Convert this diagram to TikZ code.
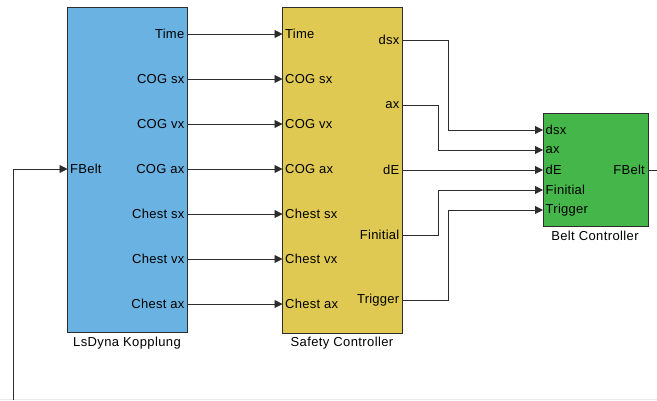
\documentclass[tikz,border=0pt]{standalone}
\usepackage{fontspec}
\setmainfont{Liberation Sans}
\usetikzlibrary{arrows.meta}
\definecolor{dynablue}{RGB}{106,178,226}
\definecolor{safeyellow}{RGB}{223,201,83}
\definecolor{beltgreen}{RGB}{69,182,73}
\definecolor{wire}{RGB}{45,45,45}
\tikzset{
  block/.style={draw=wire, line width=0.9pt, inner sep=0pt},
  inport/.style={anchor=west, inner sep=2.5pt, font=\fontsize{13}{14}\selectfont\addfontfeature{LetterSpace=2}},
  outport/.style={anchor=east, inner sep=3pt, font=\fontsize{13}{14}\selectfont\addfontfeature{LetterSpace=2}},
  caption/.style={font=\fontsize{13}{14}\selectfont\addfontfeature{LetterSpace=3}},
  sig/.style={draw=wire, line width=0.9pt, -{Triangle[length=8pt,width=8pt]}},
  sigline/.style={draw=wire, line width=0.9pt}
}
\begin{document}
\begin{tikzpicture}[x=1pt, y=-1pt]
    \useasboundingbox (0,0) rectangle (657,400);
    \draw[black!8, line width=1pt] (0,399.5) -- (657,399.5);
    % blocks
    \node[block, fill=dynablue, minimum width=120pt, minimum height=325pt] (L) at (127.5,169.5) {};
    \node[block, fill=safeyellow, minimum width=120pt, minimum height=326pt] (S) at (342.5,170) {};
    \node[block, fill=beltgreen, minimum width=105pt, minimum height=113pt] (B) at (595.5,169.5) {};
    \node[caption] (Lcap) at (127,343) {LsDyna Kopplung};
    \node[caption] (Scap) at (342,343) {Safety Controller};
    \node[caption] (Bcap) at (595,236) {Belt Controller};
    % LsDyna ports
    \node[outport] (L1) at (187.5,34) {Time};
    \node[outport] (L2) at (187.5,79) {COG sx};
    \node[outport] (L3) at (187.5,124) {COG vx};
    \node[outport] (L4) at (187.5,169) {COG ax};
    \node[outport] (L5) at (187.5,214) {Chest sx};
    \node[outport] (L6) at (187.5,259) {Chest vx};
    \node[outport] (L7) at (187.5,304) {Chest ax};
    \node[inport] (LF) at (67.5,169) {FBelt};
    % Safety ports
    \node[inport] (S1) at (282.5,34) {Time};
    \node[inport] (S2) at (282.5,79) {COG sx};
    \node[inport] (S3) at (282.5,124) {COG vx};
    \node[inport] (S4) at (282.5,169) {COG ax};
    \node[inport] (S5) at (282.5,214) {Chest sx};
    \node[inport] (S6) at (282.5,259) {Chest vx};
    \node[inport] (S7) at (282.5,304) {Chest ax};
    \node[outport] (So1) at (402.5,40) {dsx};
    \node[outport] (So2) at (402.5,105) {ax};
    \node[outport] (So3) at (402.5,170) {dE};
    \node[outport] (So4) at (402.5,235) {Finitial};
    \node[outport] (So5) at (402.5,300) {Trigger};
    % Belt ports
    \node[inport] (B1) at (543,130) {dsx};
    \node[inport] (B2) at (543,150) {ax};
    \node[inport] (B3) at (543,170) {dE};
    \node[inport] (B4) at (543,190) {Finitial};
    \node[inport] (B5) at (543,210) {Trigger};
    \node[outport] (BF) at (648,170) {FBelt};
    \coordinate (Fout) at (657,170);
    \coordinate (Fback) at (13,400);
    % wires
    \foreach \i in {1,...,7}
        \draw[sig] (L\i.east) -- (S\i.west);
    \draw[sig] (So1.east) -| (448,130) -- (B1.west);
    \draw[sig] (So2.east) -| (438,150) -- (B2.west);
    \draw[sig] (So3.east) -- (B3.west);
    \draw[sig] (So4.east) -| (438,190) -- (B4.west);
    \draw[sig] (So5.east) -| (448,210) -- (B5.west);
    \draw[sigline] (BF.east) -- (Fout);
    \draw[sig] (Fback) |- (LF.west);
\end{tikzpicture}
\end{document}
